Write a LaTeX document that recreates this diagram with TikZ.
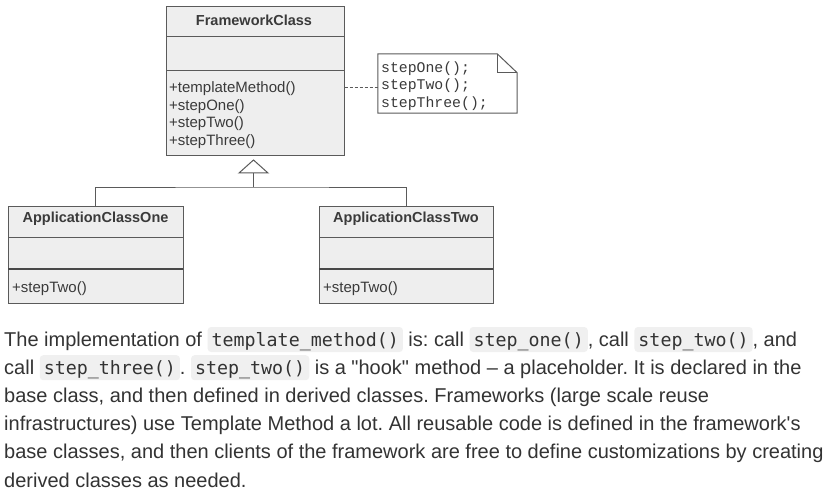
\documentclass[tikz,border=0pt]{standalone}
\usepackage{fontspec}
\usetikzlibrary{calc}
\newfontfamily\umlfont{Liberation Sans}[Ligatures=TeXOff]
\newfontfamily\parafont{Liberation Sans}[Ligatures=TeXOff]
\newfontfamily\notefont{Liberation Mono}[Ligatures=TeXOff]
\newfontfamily\codefont{DejaVu Sans Mono}[Ligatures=TeXOff]
\definecolor{umlbg}{HTML}{EEEEEE}
\definecolor{umlline}{HTML}{5A5A5A}
\definecolor{umltext}{HTML}{3A3A3A}
\definecolor{paratext}{HTML}{333333}
\definecolor{codebg}{HTML}{F0F0F0}
\newlength\codew
\newcommand\code[1]{\settowidth\codew{\fontsize{18.3}{22}\codefont #1}%
  \tikz[baseline=0pt]{\fill[codebg, rounded corners=3.5pt] (0pt,-6pt) rectangle (\codew+8pt,19pt);}%
  \hspace{-\codew}\hspace{-4pt}{\fontsize{18.3}{22}\codefont #1}\hspace{4pt}}
\tikzset{
  classbox/.style={draw=umlline, fill=umlbg, line width=1pt, inner sep=0pt},
  classtitle/.style={font=\fontsize{14.5}{17}\umlfont\bfseries, text=umltext, inner sep=0pt},
  member/.style={font=\fontsize{15}{17.5}\umlfont, text=umltext, inner sep=0pt, anchor=base west},
  notetext/.style={font=\fontsize{14.8}{17.5}\notefont, text=umltext, inner sep=0pt, anchor=base west},
  para/.style={font=\fontsize{20}{28}\parafont\frenchspacing, text=paratext, inner sep=0pt, anchor=base west},
  sep/.style={draw=umlline, line width=1pt},
  thicksep/.style={draw=umlline!80!black, line width=2pt},
  connector/.style={draw=umlline, line width=1pt},
}
\begin{document}
\begin{tikzpicture}[x=1pt,y=-1pt]
\useasboundingbox (0,0) rectangle (829,497);
\fill[white] (0,0) rectangle (829,497);

% FrameworkClass
\node[classbox, minimum width=178pt, minimum height=149pt] (fw) at (255,81.5) {};
\node[classtitle] (fwt) at (254,20.5) {FrameworkClass};
\draw[sep] (166,37) -- (344,37);
\draw[sep] (166,71) -- (344,71);
\node[member] (m1) at (169,93) {+templateMethod()};
\node[member] (m2) at (169,110.5) {+stepOne()};
\node[member] (m3) at (169,128) {+stepTwo()};
\node[member] (m4) at (169,145.5) {+stepThree()};

% Note
\node[inner sep=0pt, minimum width=139pt, minimum height=59pt] (note) at (447.5,83.5) {};
\draw[draw=umlline, fill=white, line width=1pt] (note.south west) -- (note.north west) -- ($(note.north east)+(-20,0)$) -- ($(note.north east)+(0,19)$) -- (note.south east) -- cycle;
\draw[draw=umlline, line width=1pt] ($(note.north east)+(-20,0)$) -- ($(note.north east)+(-20,19)$) -- ($(note.north east)+(0,19)$);
\node[notetext] (n1) at (381,72.5) {stepOne();};
\node[notetext] (n2) at (381,90) {stepTwo();};
\node[notetext] (n3) at (381,107.5) {stepThree();};
\draw[connector, dash pattern=on 3pt off 2pt] (fw.east |- 0,88) -- (note.west |- 0,88);

% Application classes
\node[classbox, minimum width=175pt, minimum height=97pt] (a1) at (95.5,254.5) {};
\node[classtitle] (a1t) at (95.5,218.5) {ApplicationClassOne};
\draw[sep] (8,237) -- (183,237);
\draw[thicksep] (8,269) -- (183,269);
\node[member] (a1m) at (12,292) {+stepTwo()};

\node[classbox, minimum width=174pt, minimum height=97pt] (a2) at (406,254.5) {};
\node[classtitle] (a2t) at (406,218.5) {ApplicationClassTwo};
\draw[sep] (319,237) -- (493,237);
\draw[thicksep] (319,269) -- (493,269);
\node[member] (a2m) at (323,292) {+stepTwo()};

% Generalization
\coordinate (apex) at (253.5,160);
\coordinate (tribase) at (253.5,173);
\coordinate (join) at (253.5,187);
\draw[connector] (a1.north) |- (join) -| (a2.north);
\draw[connector] (join) -- (tribase);
\draw[connector, fill=white] (apex) -- ($(tribase)+(-14.5,0)$) -- ($(tribase)+(14.5,0)$) -- cycle;

% Paragraph
\node[para] (l1) at (4,346) {The implementation of \code{template\_method()} is: call \code{step\_one()}, call \code{step\_two()}, and};
\node[para] (l2) at (4,374.2) {call \code{step\_three()}. \code{step\_two()} is a "hook" method – a placeholder. It is declared in the};
\node[para] (l3) at (4,402.4) {base class, and then defined in derived classes. Frameworks (large scale reuse};
\node[para] (l4) at (4,430.6) {infrastructures) use Template Method a lot. All reusable code is defined in the framework's};
\node[para] (l5) at (4,458.8) {base classes, and then clients of the framework are free to define customizations by creating};
\node[para] (l6) at (4,487) {derived classes as needed.};
\end{tikzpicture}
\end{document}
